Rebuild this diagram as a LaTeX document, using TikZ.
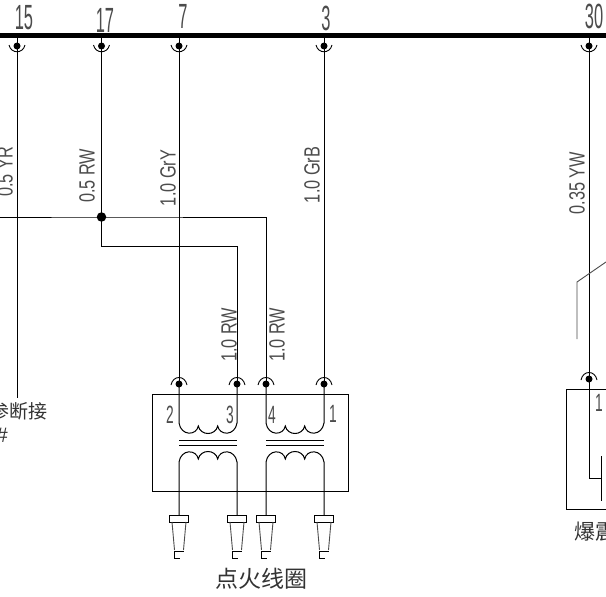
\documentclass[tikz,border=0pt]{standalone}
\usepackage{fontspec}
\usetikzlibrary{calc}
\setmainfont{Liberation Sans}
\newfontfamily\cjk{Noto Sans CJK SC}
\begin{document}
\begin{tikzpicture}[x=1pt,y=-1pt,
  wire/.style={line width=1pt,black},
  thinwire/.style={line width=0.9pt,black},
  graywire/.style={line width=0.9pt,black!70},
  bus/.style={line width=4.2pt,black},
  pin/.style={circle,fill=black,inner sep=0pt,minimum size=7pt},
  numlabel/.style={inner sep=0pt,text=black!70},
  wirelabel/.style={inner sep=0pt,rotate=90,text=black!70},
  cnlabel/.style={inner sep=0pt,text=black!80}]
\newcommand{\numtxt}[1]{\scalebox{0.47}[1]{\fontsize{35}{35}\selectfont #1}}
\newcommand{\pintxt}[1]{\scalebox{0.55}[1]{\fontsize{25}{25}\selectfont #1}}
\newcommand{\wiretxt}[1]{\scalebox{0.74}[1]{\fontsize{22}{22}\selectfont #1}}
\useasboundingbox (0,0) rectangle (606,597);
\clip (0,0) rectangle (606,597);
\fill[white] (0,0) rectangle (606,597);
% bus
\coordinate (bL) at (0,35.5); \coordinate (bR) at (606,35.5);
\draw[bus] (bL) -- (bR);
\foreach \n/\x in {a/17,b/101.5,c/179,d/324,e/589}{\coordinate (top\n) at (\x,35.5);}
% pins
\node[pin] (pa) at (17,46) {};
\node[pin] (pb) at (101.5,46) {};
\node[pin] (pc) at (179,46) {};
\node[pin] (pd) at (324,46) {};
\node[pin] (pe) at (589,46) {};
\node[pin] (p2) at (179,384) {};
\node[pin] (p3) at (237,384) {};
\node[pin] (p4) at (266,384) {};
\node[pin] (p1) at (324,384) {};
\node[pin] (pk) at (589,379) {};
\node[pin,minimum size=9.5pt] (jn) at (101.5,217) {};
\coordinate (leftend) at (0,217);
\coordinate (aend) at (17,398);
% wires
\draw[wire] (topa) -- (aend);
\draw[wire] (topb) -- (jn.center) -- (101.5,246) -- (237,246) -- (p3.center);
\draw[wire] (leftend) -- (jn.center) -- (266,217) -- (p4.center);
\draw[wire] (topc) -- (p2.center);
\draw[wire] (topd) -- (p1.center);
\draw[wire] (tope) -- (pk.center);
% terminal arcs
\foreach \n in {pa,pb,pc,pd,pe}{
  \draw[thinwire] ($(\n)+(-8,-1)$) .. controls ($(\n)+(-6,8)$) and ($(\n)+(6,8)$) .. ($(\n)+(8,-1)$);
}
\foreach \n in {p2,p3,p4,p1,pk}{
  \draw[thinwire] ($(\n)+(-8,1)$) .. controls ($(\n)+(-6,-9)$) and ($(\n)+(6,-9)$) .. ($(\n)+(8,1)$);
}
% coil box
\node[draw,line width=1pt,minimum width=195.5pt,minimum height=97pt,inner sep=0pt] (coilbox) at (250.25,442.5) {};
% windings
\foreach \s/\p/\q in {179/p2/p3,266/p4/p1}{
  \draw[wire] (\p.center) -- (\s,423)
    .. controls (\s+2,436) and (\s+17.3,436) .. (\s+19.33,426)
    .. controls (\s+21.3,436) and (\s+36.7,436) .. (\s+38.67,426)
    .. controls (\s+40.7,436) and (\s+56,436) .. (\s+58,423) -- (\q.center);
  \draw[wire] (\s,440) -- (\s+58,440);
  \draw[wire] (\s,445) -- (\s+58,445);
  \coordinate (L) at (\s,515); \coordinate (R) at (\s+58,515);
  \draw[wire] (L) -- (\s,462)
    .. controls (\s+2,449) and (\s+17.3,449) .. (\s+19.33,459)
    .. controls (\s+21.3,449) and (\s+36.7,449) .. (\s+38.67,459)
    .. controls (\s+40.7,449) and (\s+56,449) .. (\s+58,462) -- (R);
}
% spark plugs
\foreach \x in {179,237,266,324}{
  \node[draw,fill=white,line width=1pt,minimum width=19pt,minimum height=7pt,inner sep=0pt] at (\x,518.5) {};
  \draw[graywire] (\x-7,522) -- (\x-4.5,550);
  \draw[graywire] (\x+7,522) -- (\x+4.5,550);
  \draw[thinwire] (\x+4.5,551.5) -- (\x-4.5,551.5) -- (\x-4.5,558) -- (\x+1,558);
}
% knock sensor
\coordinate (kTL) at (566.5,389); \coordinate (kBL) at (566.5,509);
\draw[wire] (606,389) -- (kTL) -- (kBL) -- (606,509);
\draw[wire] (pk.center) -- (589,478) -- (601,478);
\draw[wire] (601,456) -- (601,501);
\draw[graywire] (606,262) -- (577,282) -- (577,339);
% top numbers
\node[numlabel] (n15) at (24,18) {\numtxt{15}};
\node[numlabel] (n17) at (105,20) {\numtxt{17}};
\node[numlabel] (n7) at (183,16) {\numtxt{7}};
\node[numlabel] (n3) at (326,18) {\numtxt{3}};
\node[numlabel] (n30) at (594,16) {\numtxt{30}};
% wire labels
\node[wirelabel] (w1) at (5,172) {\wiretxt{0.5 YR}};
\node[wirelabel] (w2) at (87,176) {\wiretxt{0.5 RW}};
\node[wirelabel] (w3) at (168,178) {\wiretxt{1.0 GrY}};
\node[wirelabel] (w4) at (312,175) {\wiretxt{1.0 GrB}};
\node[wirelabel] (w5) at (229,335) {\wiretxt{1.0 RW}};
\node[wirelabel] (w6) at (277,335) {\wiretxt{1.0 RW}};
\node[wirelabel] (w7) at (577,183) {\wiretxt{0.35 YW}};
% pin numbers
\node[numlabel] (t2) at (170,415) {\pintxt{2}};
\node[numlabel] (t3) at (230,415) {\pintxt{3}};
\node[numlabel] (t4) at (272,415) {\pintxt{4}};
\node[numlabel] (t1) at (333,414) {\pintxt{1}};
\node[numlabel] (t1k) at (599,403) {\pintxt{1}};
% chinese labels
\node[cnlabel] (c1) at (261,579) {\cjk\fontsize{23}{23}\selectfont 点火线圈};
\node[cnlabel,anchor=west] (c2) at (574,532) {\cjk\fontsize{21}{21}\selectfont 爆震};
\node[cnlabel,anchor=east] (c3) at (48,411) {\cjk\fontsize{19}{19}\selectfont 参断接};
\node[cnlabel,anchor=west] (c4) at (-4,435) {\fontsize{21}{21}\selectfont \#};
\end{tikzpicture}
\end{document}
